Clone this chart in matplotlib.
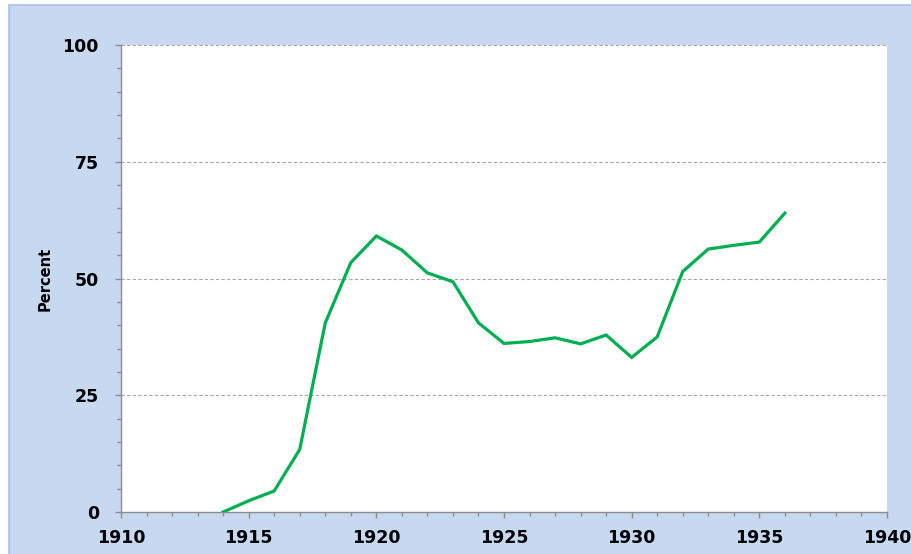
import matplotlib
matplotlib.use("Agg")
import matplotlib.pyplot as plt
from matplotlib.patches import Rectangle
from matplotlib.ticker import MultipleLocator

years = [1914, 1915, 1916, 1917, 1918, 1919, 1920, 1921, 1922, 1923, 1924, 1925,
         1926, 1927, 1928, 1929, 1930, 1931, 1932, 1933, 1934, 1935, 1936]
percent = [0.0, 2.4, 4.5, 13.4, 40.5, 53.4, 59.1, 56.1, 51.2, 49.3, 40.5, 36.1,
           36.5, 37.3, 36.0, 37.9, 33.1, 37.5, 51.5, 56.3, 57.1, 57.8, 64.0]
x_ticks = [1910, 1915, 1920, 1925, 1930, 1935, 1940]
y_ticks = [0, 25, 50, 75, 100]
y_label = "Percent"

W, H = 912, 554
fig = plt.figure(figsize=(W / 100, H / 100), dpi=100)
fig.patch.set_facecolor("white")
bg = Rectangle((9 / W, -0.05), 1.05 - 9 / W, 1.05 - 5 / H, transform=fig.transFigure,
               facecolor="#C6D9F1", edgecolor="#A7C2E6", linewidth=1.2, zorder=-10)
fig.patches.append(bg)

ax = fig.add_axes([121 / W, 1 - 512 / H, (887 - 121) / W, (512 - 45) / H])
ax.set_zorder(5)
ax.set_facecolor("white")
ax.plot(years, percent, color="#00B050", linewidth=2.3, solid_joinstyle="miter", zorder=3)

ax.set_xlim(1910, 1940)
ax.set_ylim(0, 100)
ax.set_xticks(x_ticks)
ax.set_yticks(y_ticks)
ax.xaxis.set_minor_locator(MultipleLocator(1))
ax.yaxis.set_minor_locator(MultipleLocator(5))
for t in y_ticks[1:]:
    ax.axhline(t, color="#A6A6A6", linestyle=(0, (3, 2)), linewidth=0.8, zorder=1)

for s in ["top", "right"]:
    ax.spines[s].set_visible(False)
for s in ["left", "bottom"]:
    ax.spines[s].set_color("#8C8C8C")
    ax.spines[s].set_linewidth(1.0)

ax.tick_params(axis="both", which="major", length=4.5, width=1, color="#8C8C8C",
               labelsize=12.5, labelcolor="black")
ax.tick_params(axis="both", which="minor", length=3, width=1, color="#8C8C8C")
ax.tick_params(axis="y", which="major", pad=11.5)
ax.tick_params(axis="x", which="major", pad=8)
for lab in ax.get_xticklabels() + ax.get_yticklabels():
    lab.set_fontweight("bold")
    lab.set_family("DejaVu Sans")

fig.text(45 / W, 1 - 279 / H, y_label, rotation=90, ha="center", va="center",
         fontsize=10.5, fontweight="bold", family=["Liberation Sans Narrow", "DejaVu Sans"])

fig.savefig("out.png", dpi=100, facecolor=fig.get_facecolor())
